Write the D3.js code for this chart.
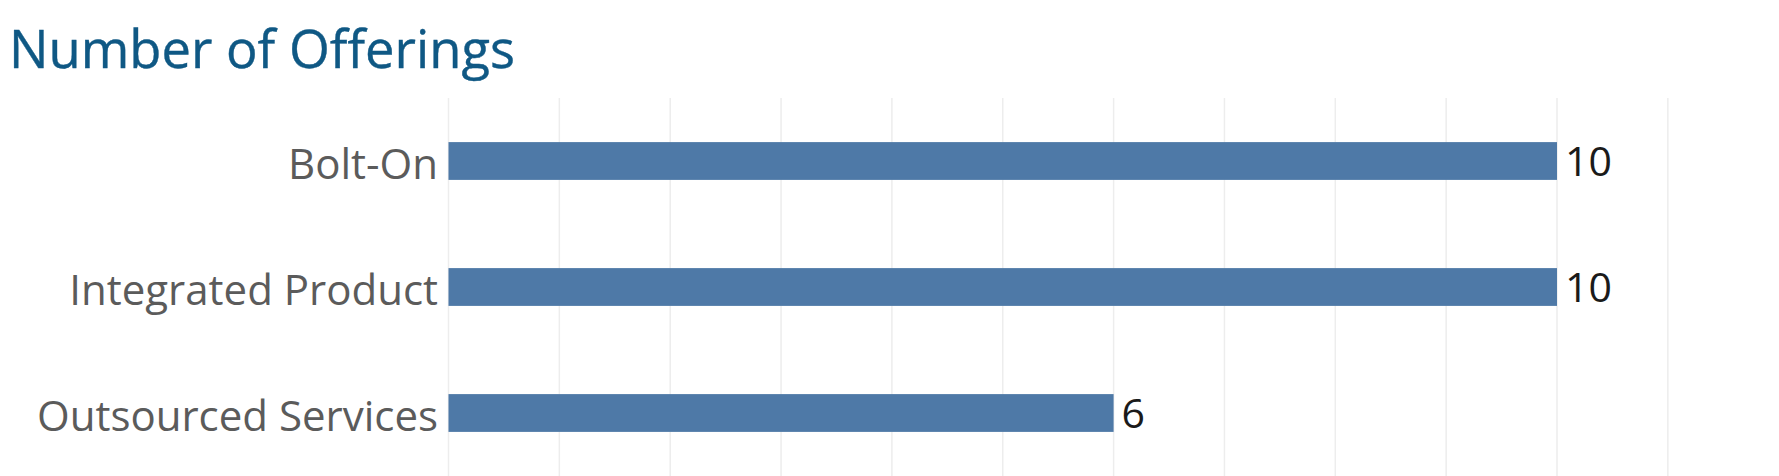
<!DOCTYPE html>
<html>
<head>
<meta charset="utf-8">
<script src="https://cdn.jsdelivr.net/npm/d3@7"></script>
<style>
  html, body { margin: 0; padding: 0; background: #ffffff; }
  svg { display: block; }
</style>
</head>
<body>
<svg id="chart" width="1779" height="476"></svg>
<script>
const title = "Number of Offerings";
const categories = ["Bolt-On", "Integrated Product", "Outsourced Services"];
const values = [10, 10, 6];
const gridTicks = [0, 1, 2, 3, 4, 5, 6, 7, 8, 9, 10, 11];

const W = 1779, H = 476;
const svg = d3.select("#chart");
const font = "'Open Sans', 'Noto Sans', sans-serif";

const x = d3.scaleLinear().domain([0, 10]).range([448.5, 1557]);
const y = d3.scaleBand().domain(categories).range([98, 476]).paddingInner(0.7).paddingOuter(0.35);

// title
svg.append("text")
  .attr("x", 9).attr("y", 68)
  .attr("font-family", font).attr("font-size", 52.5)
  .attr("fill", "#0f5884")
  .attr("stroke", "#0f5884").attr("stroke-width", 0.4)
  .text(title);

// gridlines
svg.append("g").selectAll("line").data(gridTicks).join("line")
  .attr("x1", d => x(d)).attr("x2", d => x(d))
  .attr("y1", 98).attr("y2", H)
  .attr("stroke", "#ededed").attr("stroke-width", 1.5);

// bars
svg.append("g").selectAll("rect").data(categories).join("rect")
  .attr("x", x(0))
  .attr("y", d => y(d))
  .attr("width", (d, i) => x(values[i]) - x(0))
  .attr("height", y.bandwidth())
  .attr("fill", "#4e79a7");

// category labels
svg.append("g").selectAll("text").data(categories).join("text")
  .attr("x", 438)
  .attr("y", d => y(d) + y.bandwidth() / 2 + 18)
  .attr("text-anchor", "end")
  .attr("font-family", font).attr("font-size", 42)
  .attr("fill", "#5b5b5b")
  .text(d => d);

// value labels
svg.append("g").selectAll("text").data(categories).join("text")
  .attr("x", (d, i) => x(values[i]) + 8)
  .attr("y", d => y(d) + y.bandwidth() / 2 + 14.5)
  .attr("font-family", font).attr("font-size", 41)
  .attr("fill", "#1a1a1a")
  .text((d, i) => values[i]);
</script>
</body>
</html>
